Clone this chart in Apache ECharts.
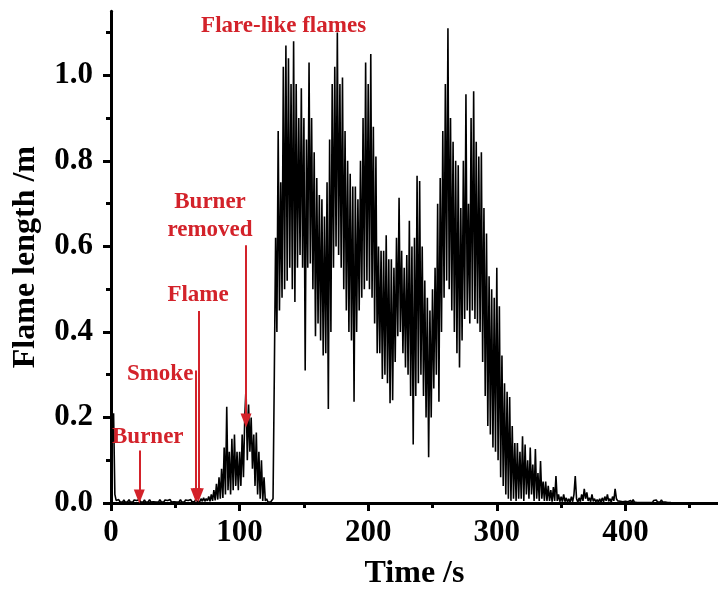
<!DOCTYPE html>
<html>
<head>
<meta charset="utf-8">
<script src="https://cdn.jsdelivr.net/npm/echarts@6/dist/echarts.min.js"></script>
<style>
html,body{margin:0;padding:0;background:#fff;}
#chart{width:718px;height:595px;}
</style>
</head>
<body>
<div id="chart"></div>
<script>
// ---- data ----
const sampleStepS = 1; // one value per second, starting at t = 0 s
const flameLength = [
 0.22,0.14,0.21,0.02,0.006,0.002,0.008,0.003,0.006,0.002,
 0.007,0.002,0.006,0.003,0.008,0.002,0.005,0.002,0.007,0.003,
 0.006,0.002,0.008,0.003,0.005,0.002,0.007,0.002,0.006,0.003,
 0.008,0.002,0.005,0.003,0.007,0.002,0.006,0.002,0.008,0.003,
 0.005,0.002,0.007,0.003,0.006,0.002,0.008,0.002,0.005,0.003,
 0.007,0.002,0.006,0.003,0.008,0.002,0.005,0.002,0.007,0.003,
 0.006,0.002,0.008,0.003,0.006,0.003,0.009,0.004,0.008,0.003,
 0.010,0.004,0.012,0.004,0.010,0.005,0.015,0.004,0.020,0.005,
 0.030,0.006,0.045,0.008,0.060,0.010,0.080,0.012,0.130,0.020,
 0.225,0.030,0.120,0.020,0.150,0.030,0.160,0.040,0.120,0.030,
 0.120,0.040,0.160,0.060,0.200,0.270,0.100,0.230,0.120,0.200,
 0.080,0.160,0.040,0.165,0.020,0.120,0.010,0.100,0.005,0.060,
 0.005,0.010,0.003,0.005,0.002,0.005,0.010,0.300,
 // 128 s
 0.62,0.40, 0.87,0.45, 0.75,0.48, 1.02,0.50, 1.07,0.52,
 1.04,0.55, 0.98,0.50, 1.08,0.47, 0.98,0.55, 0.90,0.58,
 0.97,0.55, 0.90,0.31, 0.85,0.55, 1.03,0.56, 0.90,0.50,
 0.82,0.39, 0.76,0.42, 0.72,0.38, 0.71,0.345, 0.67,0.35,
 0.75,0.22, 0.85,0.40, 0.98,0.55, 1.02,0.60, 1.10,0.58,
 0.98,0.55, 0.995,0.50, 0.87,0.45, 0.80,0.40, 0.77,0.38,
 0.74,0.237, 0.74,0.40, 0.71,0.45, 0.80,0.48, 0.90,0.50,
 1.03,0.52, 0.98,0.50, 1.05,0.48, 0.88,0.42, 0.81,0.35,
 // 208 s
 0.60,0.35, 0.59,0.29, 0.59,0.30, 0.626,0.28, 0.57,0.233,
 0.57,0.24, 0.55,0.33, 0.62,0.39, 0.714,0.40, 0.59,0.35,
 0.55,0.317, 0.58,0.30, 0.66,0.25, 0.60,0.137, 0.62,0.25,
 0.765,0.28, 0.753,0.30, 0.60,0.25, 0.52,0.20, 0.48,0.107,
 0.45,0.20, 0.50,0.268, 0.55,0.30, 0.70,0.237, 0.76,0.40,
 0.87,0.48, 0.98,0.52, 1.11,0.50, 0.90,0.45, 0.845,0.40,
 0.80,0.35, 0.79,0.317, 0.69,0.38, 0.80,0.43, 0.956,0.45,
 0.70,0.42, 0.90,0.45, 0.963,0.43, 0.845,0.42, 0.81,0.40,
 // 288 s
 0.82,0.33, 0.69,0.25, 0.63,0.18, 0.53,0.16, 0.50,0.13,
 0.48,0.12, 0.55,0.10, 0.46,0.06, 0.345,0.04, 0.28,0.02,
 0.26,0.01, 0.248,0.005, 0.18,0.01, 0.14,0.005, 0.14,0.01,
 0.12,0.01, 0.156,0.005, 0.137,0.02, 0.10,0.01, 0.13,0.02,
 0.09,0.005, 0.126,0.01, 0.07,0.005, 0.098,0.01, 0.05,0.005,
 0.05,0.005, 0.04,0.005, 0.03,0.003, 0.037,0.005, 0.063,0.005,
 0.02,0.003, 0.015,0.003, 0.02,0.003, 0.012,0.002, 0.01,0.002,
 0.015,0.003, 0.02,0.063, 0.01,0.002, 0.012,0.003, 0.02,0.005,
 // 368 s
 0.033,0.01, 0.025,0.005, 0.012,0.003, 0.02,0.004, 0.01,0.003,
 0.008,0.002, 0.01,0.002, 0.012,0.003, 0.015,0.005, 0.02,0.004,
 0.01,0.002, 0.015,0.005, 0.033,0.01, 0.005,0.002,
 // 396 s
 0.004,0.001, 0.003,0.001, 0.004,0.001, 0.003,0.001, 0.006,0.001,
 0.008,0.002, 0.004,0.001, 0.003,0.001, 0.004,0.001, 0.005,0.001,
 0.003,0.001, 0.004,0.001, 0.003,0.001, 0.006,0.002, 0.007,0.002,
 0.006,0.002, 0.007,0.002, 0.006,0.002, 0.005,0.001, 0.003,0.001,
 0.0
];

const xTickValues = [0, 100, 200, 300, 400];
const xMinorTickValues = [50, 150, 250, 350, 450];
const yTickValues = [0, 0.2, 0.4, 0.6, 0.8, 1.0];
const yMinorTickValues = [0.1, 0.3, 0.5, 0.7, 0.9, 1.1];

// annotation texts with their anchor in data units (time s, length m)
const noteTexts = ['Flare-like flames', 'Burner\nremoved', 'Flame', 'Smoke', 'Burner'];
const noteTimes = [134.2, 77, 67.7, 38.2, 28.6];
const noteLengths = [1.115, 0.672, 0.486, 0.302, 0.154];

// arrows: time, start length, tip length
const arrowTimes = [22, 66.1, 67.9, 105];
const arrowStarts = [0.123, 0.31, 0.449, 0.603];
const arrowTips = [0.015, 0.018, 0.018, 0.193];

// ---- chart ----
const FONT = '"Liberation Serif", "Times New Roman", serif';
const RED = '#d3222a';
const seriesData = flameLength.map((v, i) => [i * sampleStepS, v]);

const chart = echarts.init(document.getElementById('chart'), null, {renderer: 'canvas'});

const axisLineStyle = {color: '#000', width: 3};

chart.setOption({
  animation: false,
  backgroundColor: '#fff',
  grid: {left: 111, right: 0, top: 11.2, bottom: 86.7, containLabel: false},
  xAxis: [{
    type: 'value', min: 0, max: 472,
    name: 'Time /s', nameLocation: 'middle', nameGap: 55,
    nameTextStyle: {fontFamily: FONT, fontWeight: 'bold', fontSize: 32, color: '#000'},
    axisLine: {show: true, onZero: false, lineStyle: axisLineStyle},
    axisTick: {show: true, inside: false, length: 8, lineStyle: {color: '#000', width: 3}, customValues: xTickValues},
    axisLabel: {show: true, margin: 14, fontFamily: FONT, fontWeight: 'bold', fontSize: 31, color: '#000', customValues: xTickValues, formatter: v => String(v)},
    splitLine: {show: false}, minorTick: {show: false}
  }, {
    type: 'value', min: 0, max: 472, position: 'bottom',
    axisLine: {show: false},
    axisTick: {show: true, inside: false, length: 5, lineStyle: {color: '#000', width: 3}, customValues: xMinorTickValues},
    axisLabel: {show: false}, splitLine: {show: false}
  }],
  yAxis: [{
    type: 'value', min: 0, max: 1.15,
    name: 'Flame length /m', nameLocation: 'middle', nameGap: 69, nameRotate: 90,
    nameTextStyle: {fontFamily: FONT, fontWeight: 'bold', fontSize: 32, color: '#000'},
    axisLine: {show: true, onZero: false, lineStyle: axisLineStyle},
    axisTick: {show: true, inside: false, length: 8, lineStyle: {color: '#000', width: 3}, customValues: yTickValues},
    axisLabel: {show: true, margin: 18, fontFamily: FONT, fontWeight: 'bold', fontSize: 31, color: '#000', customValues: yTickValues, formatter: v => v.toFixed(1)},
    splitLine: {show: false}, minorTick: {show: false}
  }, {
    type: 'value', min: 0, max: 1.15, position: 'left',
    axisLine: {show: false},
    axisTick: {show: true, inside: false, length: 5, lineStyle: {color: '#000', width: 3}, customValues: yMinorTickValues},
    axisLabel: {show: false}, splitLine: {show: false}
  }],
  series: [{
    type: 'line',
    data: seriesData,
    showSymbol: false,
    symbol: 'none',
    sampling: null,
    lineStyle: {color: '#000', width: 1.6},
    silent: true,
    z: 2
  }, {
    type: 'line',
    data: [],
    silent: true,
    z: 5,
    markLine: {
      silent: true,
      animation: false,
      symbol: ['none', 'triangle'],
      symbolSize: [11, 14],
      lineStyle: {color: RED, width: 2, type: 'solid'},
      label: {show: false},
      emphasis: {disabled: true},
      data: arrowTimes.map((t, i) => [
        {coord: [t, arrowStarts[i]]},
        {coord: [t, arrowTips[i]]}
      ])
    },
    markPoint: {
      silent: true,
      animation: false,
      symbol: 'circle',
      symbolSize: 1,
      itemStyle: {color: 'rgba(0,0,0,0)'},
      label: {
        show: true, position: 'inside',
        fontFamily: FONT, fontWeight: 'bold', fontSize: 23, lineHeight: 28, color: RED,
        formatter: p => p.name
      },
      data: noteTexts.map((s, i) => ({name: s, coord: [noteTimes[i], noteLengths[i]]}))
    }
  }]
});
</script>
</body>
</html>
